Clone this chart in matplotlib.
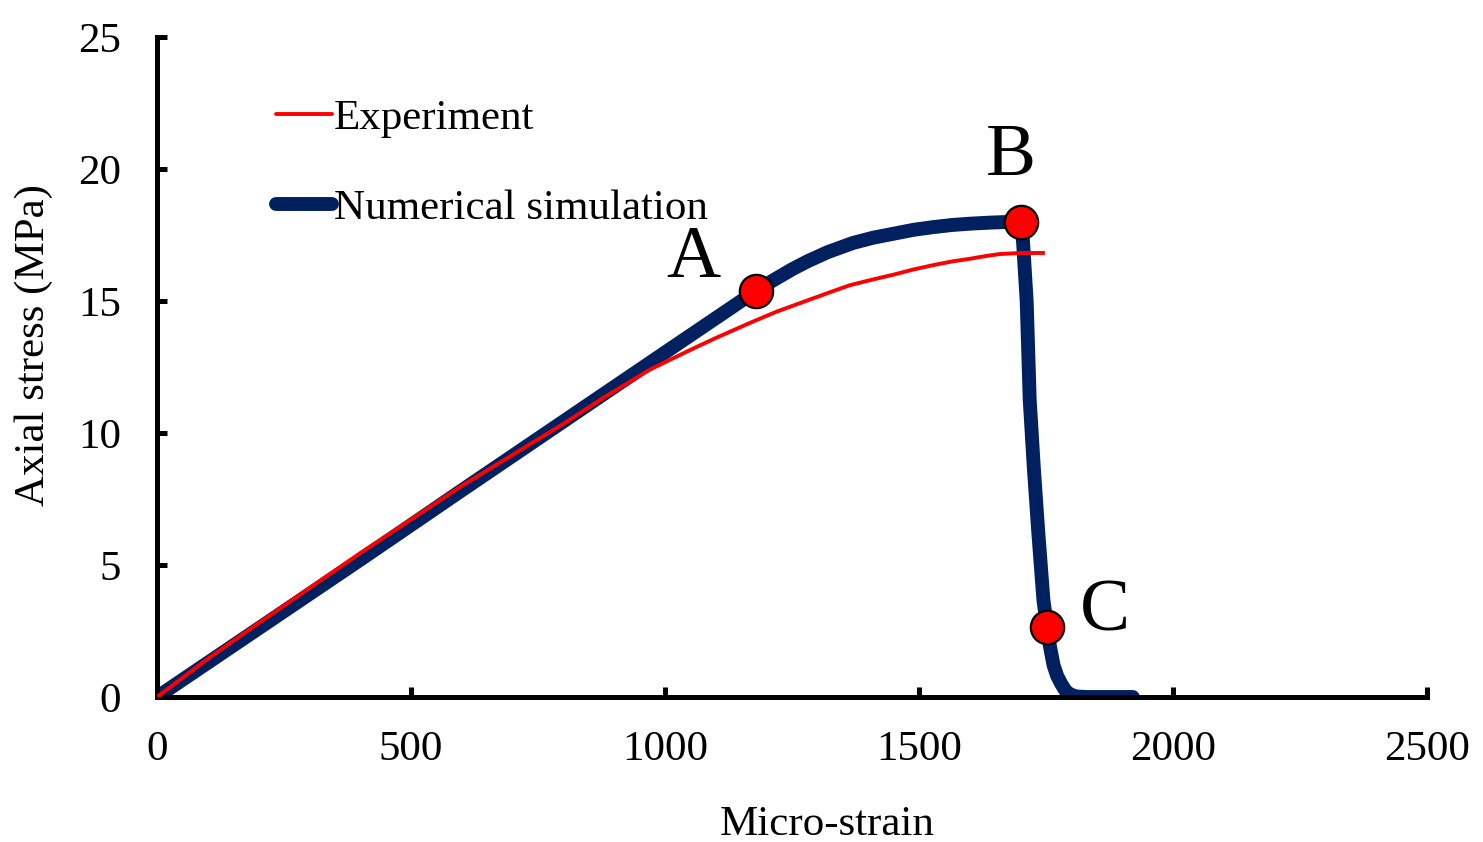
import numpy as np
import matplotlib
matplotlib.use('Agg')
from matplotlib import pyplot as plt

# experiment curve
exp_strain = [0, 100, 200, 400, 600, 800, 880, 970, 1050, 1100, 1167, 1220, 1270, 1320, 1364, 1410,
              1450, 1490, 1528, 1565, 1600, 1630, 1659, 1700, 1744]
exp_stress = [0, 1.45, 2.8, 5.45, 8.0, 10.35, 11.35, 12.4, 13.15, 13.6, 14.17, 14.6, 14.95, 15.3, 15.6, 15.82,
              16.0, 16.2, 16.36, 16.5, 16.6, 16.7, 16.78, 16.82, 16.82]

# numerical simulation curve
sim_strain = [0, 200, 400, 600, 800, 1000, 1179, 1210, 1250, 1280, 1320, 1370, 1410, 1450, 1490, 1528,
              1565, 1600, 1640, 1680, 1701, 1705, 1712, 1718, 1726, 1735, 1745, 1752, 1758, 1765, 1772,
              1780, 1788, 1797, 1810, 1830, 1921]
sim_stress = [0, 2.6, 5.2, 7.83, 10.44, 13.05, 15.38, 15.75, 16.2, 16.5, 16.85, 17.2, 17.4, 17.55, 17.7, 17.8,
              17.88, 17.93, 17.97, 18.0, 18.0, 17.2, 15.0, 11.25, 8.7, 6.2, 3.67, 2.65, 1.9, 1.2, 0.8,
              0.5, 0.25, 0.1, 0.02, 0.0, 0.0]

# marked points
pt_labels = ['A', 'B', 'C']
pt_strain = [1179, 1701, 1752]
pt_stress = [15.38, 18.0, 2.65]
lbl_strain = [1055, 1681, 1866]
lbl_stress = [16.6, 20.45, 3.2]

plt.rcParams['font.family'] = ['Liberation Serif', 'DejaVu Serif']

fig = plt.figure(figsize=(14.83, 8.42), dpi=100)
ax = fig.add_axes([0.1059, 0.1722, 0.8563, 0.7838])

ax.plot(exp_strain, exp_stress, color='#FF0000', lw=2.8, label='Experiment', zorder=3)
ax.plot(sim_strain, sim_stress, color='#002060', lw=10, label='Numerical simulation',
        solid_capstyle='round', solid_joinstyle='round', zorder=2)
ax.plot(pt_strain, pt_stress, 'o', color='#FF0000', markersize=24, markeredgecolor='black',
        markeredgewidth=1.6, zorder=4)
for t, x, y in zip(pt_labels, lbl_strain, lbl_stress):
    ax.text(x, y, t, fontsize=54, ha='center', va='center')

ax.set_xlim(0, 2500)
ax.set_ylim(0, 25)
ax.set_xticks(np.arange(0, 2501, 500))
ax.set_yticks(np.arange(0, 26, 5))

for s in ['top', 'right']:
    ax.spines[s].set_visible(False)
for s in ['left', 'bottom']:
    ax.spines[s].set_linewidth(3.6)
    ax.spines[s].set_capstyle('projecting')

ax.tick_params(axis='both', direction='in', length=7, width=3.6, labelsize=31)
ax.tick_params(axis='x', pad=24)
ax.tick_params(axis='y', pad=26)

ax.set_xlabel('Micro-strain', fontsize=31)
ax.set_ylabel('Axial stress (MPa)', fontsize=31)
ax.xaxis.set_label_coords(0.528, -0.164)
ax.yaxis.set_label_coords(-0.082, 0.533)

leg = ax.legend(loc='upper left', bbox_to_anchor=(0.080, 0.932), frameon=False, fontsize=31,
                handlelength=1.3, handletextpad=0.05, labelspacing=1.17, borderaxespad=0)
for h in leg.get_lines():
    h.set_solid_capstyle('round')

fig.savefig('out.png', dpi=100)
